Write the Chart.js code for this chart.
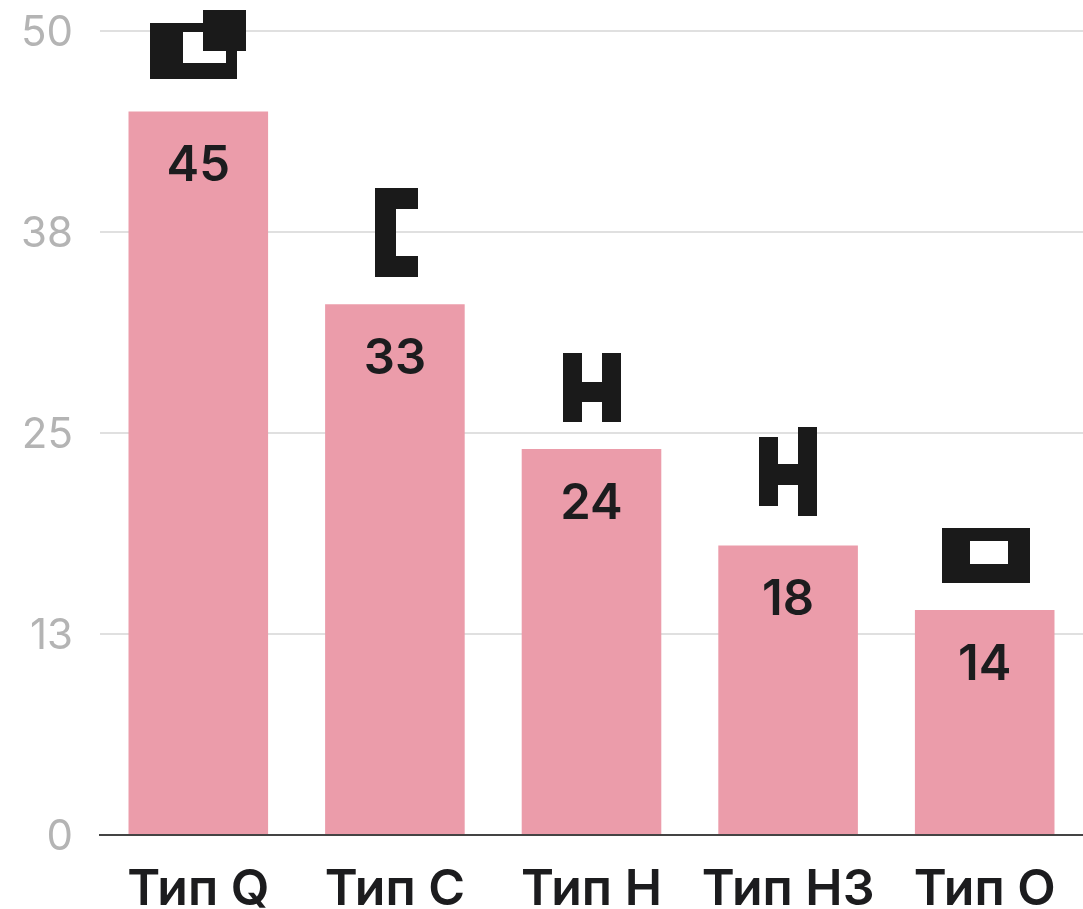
<!DOCTYPE html>
<html>
<head>
<meta charset="utf-8">
<style>
  html, body { margin: 0; padding: 0; background: #fff; }
  canvas { display: block; }
</style>
<script src="https://cdn.jsdelivr.net/npm/chart.js@4"></script>
</head>
<body>
<canvas id="chart" width="1083" height="909"></canvas>
<script>
const categories = ["Тип Q", "Тип C", "Тип H", "Тип H3", "Тип O"];
const values = [45, 33, 24, 18, 14];
const tickValues = [0, 12.5, 25, 37.5, 50];
const tickLabels = ["0", "13", "25", "38", "50"];

// Чёрные значки над столбцами: [dx от центра столбца, dy от верха столбца, ширина, высота]
const glyphQ = [[-48, -88, 33, 56], [-15, -88, 54, 9], [-15, -48, 54, 16], [28, -60, 11, 12], [5, -101, 43, 41]];
const glyphC = [[-20, -116, 21, 89], [1, -116, 22, 21], [1, -48, 22, 21]];
const glyphH = [[-29, -96, 19, 69], [10, -96, 19, 69], [-10, -67, 20, 20]];
const glyphH3 = [[-29, -109, 19, 69], [10, -119, 19, 89], [-10, -82, 20, 21]];
const glyphO = [[-43, -82, 88, 13], [-43, -46, 88, 19], [-43, -69, 28, 23], [23, -69, 22, 23]];
const glyphs = [glyphQ, glyphC, glyphH, glyphH3, glyphO];

const barLabels = {
    id: "barLabels",
    afterDatasetsDraw(chart) {
        const ctx = chart.ctx;
        ctx.save();
        chart.getDatasetMeta(0).data.forEach((bar, i) => {
            const cx = Math.round(bar.x);
            const top = Math.round(bar.y);
            // значение внутри столбца
            ctx.fillStyle = "#1c1c1e";
            ctx.font = "600 49px Inter";
            ctx.textAlign = "center";
            ctx.textBaseline = "middle";
            ctx.fillText(values[i], bar.x, bar.y + 55);
            // значок над столбцом
            ctx.fillStyle = "#1a1a1a";
            glyphs[i].forEach(r => ctx.fillRect(cx + r[0], top + r[1], r[2], r[3]));
        });
        ctx.restore();
    }
};

new Chart(document.getElementById("chart").getContext("2d"), {
    type: "bar",
    data: {
        labels: categories,
        datasets: [{
            data: values,
            backgroundColor: "#eb9caa",
            borderWidth: 0,
            barPercentage: 0.71,
            categoryPercentage: 1
        }]
    },
    plugins: [barLabels],
    options: {
        responsive: false,
        devicePixelRatio: 1,
        animation: false,
        layout: { padding: { top: 31, right: 0, left: 0, bottom: 0 } },
        plugins: {
            legend: { display: false },
            tooltip: { enabled: false }
        },
        scales: {
            x: {
                z: 1,
                afterFit: s => { s.height = 74; },
                grid: { display: false },
                border: { color: "#444444", width: 2 },
                ticks: {
                    color: "#1c1c1e",
                    font: { family: "Inter", size: 50, weight: "600" },
                    padding: 17,
                    maxRotation: 0,
                    autoSkip: false
                }
            },
            y: {
                min: 0,
                max: 50,
                afterFit: s => {
                    s.width = 100;
                    s.paddingTop = 0; // иначе padding подписей сдвигает верх шкалы
                    s.paddingBottom = 0;
                },
                afterBuildTicks: s => { s.ticks = tickValues.map(v => ({ value: v })); },
                grid: {
                    drawTicks: false,
                    lineWidth: 2,
                    color: c => c.tick && c.tick.value === 0 ? "rgba(0,0,0,0)" : "#e0e0e0"
                },
                border: { display: false },
                ticks: {
                    color: "#b4b4b4",
                    font: { family: "Inter", size: 42, weight: "400" },
                    padding: 27,
                    labelOffset: 2,
                    callback: (v, i) => tickLabels[i]
                }
            }
        }
    }
});
</script>
</body>
</html>
